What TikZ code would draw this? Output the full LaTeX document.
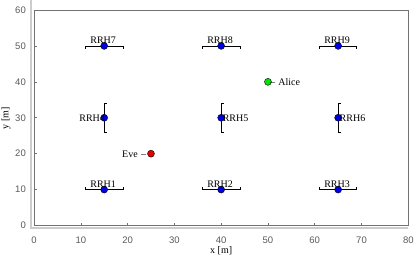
\documentclass[tikz,border=0pt]{standalone}
\usepackage{fontspec}
\setmainfont{Liberation Serif}
\setsansfont{Liberation Sans}
\usepackage{tikz}
\usetikzlibrary{positioning, calc}

\begin{document}
\begin{tikzpicture}[
  x=4.679pt, y=3.592pt,
  every node/.style={font=\fontsize{10}{12}\selectfont, inner sep=0pt},
  rrh/.style={draw=black, thin, circle, fill=blue!90!black, minimum size=7pt, inner sep=0pt},
  user/.style={draw=black, thin, circle, minimum size=7pt, inner sep=0pt},
  ticklabel/.style={font=\sffamily\fontsize{9.5}{11}\selectfont, text=black!65},
  ebar/.style={black, line width=0.7pt},
  frame/.style={black!55, line width=0.8pt},
]
  \useasboundingbox (-7.267,-9.605) rectangle (81.43,62.78);

  % light axis lines and box
  \draw[black!20, line width=1.6pt] (-0.6,62.78) -- (-0.6,-0.7) -- (80,-0.7);
  \draw[frame] (0,0) rectangle (80,60);

  % ticks and tick labels
  \foreach \t in {0,10,...,80} {
    \draw[frame, line width=0.5pt] (\t,0) -- ++(0,0.8);
    \node[ticklabel] (xt\t) at (\t,-4.04) {\t};
  }
  \foreach \t in {0,10,...,60} {
    \draw[frame, line width=0.5pt] (0,\t) -- ++(0.6,0);
    \node[ticklabel, anchor=east] (yt\t) at (-1.71,\t) {\t};
  }
  \node (xlabel) at (40,-7.1) {x [m]};
  \node[rotate=90] (ylabel) at (-6.0,29.9) {y [m]};

  % horizontal error bars (bottom row caps up, top row caps down)
  \foreach \px/\py/\c in {15/10/1, 40/10/1, 65/10/1, 15/50/-1, 40/50/-1, 65/50/-1} {
    \draw[ebar] (\px-4,\py) -- (\px+4,\py);
    \draw[ebar] (\px-4,\py) -- ++(0,\c*0.8);
    \draw[ebar] (\px+4,\py) -- ++(0,\c*0.8);
  }
  % vertical error bars
  \foreach \px/\py in {15/30, 40/30, 65/30} {
    \draw[ebar] (\px,\py-4) -- (\px,\py+4);
    \draw[ebar] (\px,\py-4) -- ++(0.7,0);
    \draw[ebar] (\px,\py+4) -- ++(0.7,0);
  }

  % RRHs
  \foreach \n/\px/\py in {1/15/10, 2/40/10, 3/65/10, 4/15/30, 5/40/30,
                          6/65/30, 7/15/50, 8/40/50, 9/65/50} {
    \node[rrh] (rrh\n) at (\px,\py) {};
  }
  \foreach \n/\px/\py in {1/15/10, 2/40/10, 3/65/10, 7/15/50, 8/40/50, 9/65/50} {
    \node[anchor=base west] (lbl\n) at (\px-3,\py+0.6) {RRH\n};
  }
  \node[anchor=base east] (lbl4) at (15.2,28.9) {RRH4};
  \foreach \n/\px in {5/40, 6/65} {
    \node[anchor=base west] (lbl\n) at (\px+0.3,28.9) {RRH\n};
  }

  % users
  \node[user, fill=green!90!black] (alice) at (50,40) {};
  \node[user, fill=red!90!black] (eve) at (25,20) {};
  \node[anchor=base west] (lblalice) at (50.4,39.0) {--\,\,Alice};
  \node[anchor=base east] (lbleve) at (24.0,19.0) {Eve\,\,--};
\end{tikzpicture}
\end{document}
